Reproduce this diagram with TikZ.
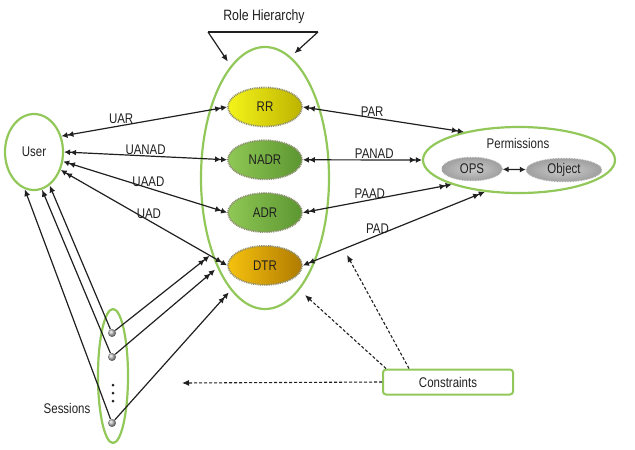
\documentclass[tikz,border=0pt]{standalone}
\usepackage{fontspec}
\setmainfont[FakeStretch=0.82]{Liberation Sans}
\usepackage{tikz}
\usetikzlibrary{arrows.meta,positioning,shapes.geometric}
\definecolor{rimgreen}{HTML}{92C85A}
\definecolor{inkgray}{HTML}{202020}
\definecolor{scallop}{HTML}{8C8C70}
\definecolor{rrlight}{HTML}{F4F41A}
\definecolor{rrdark}{HTML}{BDB300}
\definecolor{adlight}{HTML}{8FC855}
\definecolor{addark}{HTML}{5C9630}
\definecolor{dtlight}{HTML}{F6C20E}
\definecolor{dtdark}{HTML}{B07A00}
\tikzset{
  txt/.style={font=\fontsize{14}{16}\selectfont,text=inkgray,inner sep=1pt},
  lbl/.style={txt,above},
  rim/.style={ellipse,draw=rimgreen,line width=2.2pt,inner sep=0pt,txt},
  role/.style={ellipse,draw=scallop,line width=1.8pt,dash pattern=on 0.9pt off 0.9pt,
    minimum width=74pt,minimum height=39pt,inner sep=0pt,txt},
  rrole/.style={role,left color=rrlight,right color=rrdark},
  nadrole/.style={role,left color=adlight,right color=addark},
  dtrole/.style={role,left color=dtlight,right color=dtdark},
  permpart/.style={ellipse,draw=gray!70,line width=1.4pt,dash pattern=on 0.8pt off 0.8pt,
    inner color=gray!40,outer color=gray!75,minimum height=23pt,inner sep=0pt,txt},
  sessdot/.style={circle,ball color=gray!55,minimum size=8pt,inner sep=0pt},
  assign/.style={{Latex[length=6pt,width=6pt]Latex[length=6pt,width=6pt]}-{Latex[length=6pt,width=6pt]Latex[length=6pt,width=6pt]},
    line width=1.2pt,draw=inkgray},
  bind/.style={-{Latex[length=6pt,width=6pt]Latex[length=6pt,width=6pt]},line width=1.2pt,draw=inkgray},
  ptr/.style={-{Latex[length=7pt,width=6pt]},line width=1.2pt,draw=inkgray},
  hint/.style={-{Latex[length=7pt,width=6pt]},line width=1.1pt,dash pattern=on 3pt off 2pt,draw=inkgray}
}
\begin{document}
\begin{tikzpicture}[x=1pt,y=-1pt,node distance=12pt]
  \useasboundingbox (0,0) rectangle (635,450);

  % role hierarchy
  \node[rim,minimum width=128pt,minimum height=262pt] (hier) at (265,178) {};
  \node[rrole] (rr) at (265,107) {RR};
  \node[nadrole,below=of rr] (nadr) {NADR};
  \node[nadrole,below=of nadr] (adr) {ADR};
  \node[dtrole,below=of adr] (dtr) {DTR};
  \node[txt,font=\fontsize{15}{17}\selectfont] (rhtitle) at (264,17) {Role Hierarchy};
  \coordinate (brl) at (208,32);
  \coordinate (brr) at (318,32);
  \draw[line width=1.2pt,draw=inkgray] (brl) -- (brr);
  \draw[ptr,shorten >=5pt] (brl) -- (hier.107);
  \draw[ptr,shorten >=5pt] (brr) -- (hier.78);

  % user, permissions, sessions
  \node[rim,minimum width=58pt,minimum height=76pt] (user) at (34,152) {User};
  \node[rim,minimum width=192pt,minimum height=66pt] (perm) at (519,160) {};
  \node[txt] (permtitle) at (518,143) {Permissions};
  \node[permpart,minimum width=60pt] (ops) at (472,169) {OPS};
  \node[permpart,minimum width=75pt] (obj) at (564,170) {Object};
  \draw[{Latex[length=6pt,width=6pt]}-{Latex[length=6pt,width=6pt]},line width=1.2pt,draw=inkgray] (ops) -- (obj);

  \node[rim,minimum width=30pt,minimum height=134pt] (sess) at (113,376) {};
  \node[sessdot] (s1) at (112,333) {};
  \node[sessdot] (s2) at (112,357) {};
  \node[sessdot] (s3) at (112,423) {};
  \foreach \y in {385,393,401}
    \fill[inkgray] (113,\y) circle (1.5pt);
  \node[txt] (sesstitle) at (67,408) {Sessions};

  % constraints
  \node[draw=rimgreen,line width=2pt,rounded corners=3pt,minimum width=130pt,
    minimum height=25pt,txt] (cons) at (448,382) {Constraints};
  \coordinate (sesshint) at (182,383);
  \coordinate (hierhint) at (305,295);
  \coordinate (padhint) at (347,255);

  % user assignments
  \draw[assign] (user.30) -- node[lbl,pos=0.36] {UAR} (rr.west);
  \draw[assign] (user.0) -- node[lbl,pos=0.5] {UANAD} (nadr.west);
  \draw[assign] (user.-18) -- node[lbl,pos=0.52] {UAAD} (adr.west);
  \draw[assign] (user.-34) -- node[lbl,pos=0.53] {UAD} (dtr.west);

  % permission assignments
  \draw[assign] (rr.east) -- node[lbl,pos=0.43] {PAR} (perm.153);
  \draw[assign] (nadr.east) -- node[lbl,pos=0.6] {PANAD} (perm.west);
  \draw[assign] (adr.east) -- node[lbl,pos=0.45] {PAAD} (perm.200);
  \draw[assign] (dtr.east) -- node[lbl,pos=0.41] {PAD} (perm.223);

  % sessions
  \draw[ptr] (s1) -- (user.-65);
  \draw[ptr] (s2) -- (user.-78);
  \draw[ptr] (s3) -- (user.-104);
  \draw[bind,shorten >=3pt] (s1) -- (hier.235);
  \draw[bind,shorten >=3pt] (s2) -- (hier.242);
  \draw[bind,shorten >=3pt] (s3) -- (hier.253);

  % constraint hints
  \draw[hint] (cons.west) -- (sesshint);
  \draw[hint] ([xshift=4pt]cons.north west) -- (hierhint);
  \draw[hint] ([xshift=27pt]cons.north west) -- (padhint);
\end{tikzpicture}
\end{document}
